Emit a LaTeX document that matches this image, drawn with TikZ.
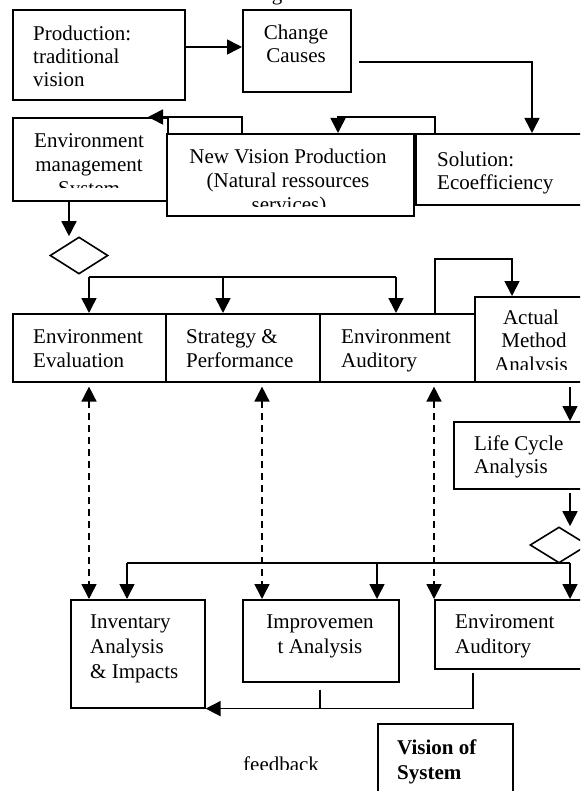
\documentclass[tikz,border=0pt]{standalone}
\usepackage{fontspec}
\setmainfont{Liberation Serif}
\usetikzlibrary{arrows.meta,shapes.geometric,calc}
\begin{document}
\begin{tikzpicture}[x=1pt,y=-1pt,
  box/.style={draw,line width=1.6pt,fill=white,rectangle,inner sep=0pt,anchor=north west},
  dia/.style={draw,line width=1.6pt,fill=white,diamond,inner sep=0pt},
  txt/.style={inner sep=0pt,font=\fontsize{21}{24}\selectfont},
  tl/.style={txt,anchor=base west},
  tc/.style={txt,anchor=base},
  conn/.style={line width=1.6pt},
  arr/.style={conn,-{Triangle[length=15pt,width=15pt]}},
  darr/.style={conn,dash pattern=on 7pt off 5pt,{Triangle[length=15pt,width=15pt]}-{Triangle[length=15pt,width=15pt]}}
]
\useasboundingbox (0,0) rectangle (580,791);
\clip (0,0) rectangle (580,791);
\fill[white] (0,0) rectangle (580,791);

% title fragment
\node[tc] (ttl) at (277,0.5) {g};

% ---------- boxes ----------
\node[box,minimum width=172pt,minimum height=90pt] (prod) at (12,9) {};
\node[tl] (prod1) at (33,40.7) {Production:};
\node[tl] (prod2) at (33,63.5) {traditional};
\node[tl] (prod3) at (33,87) {vision};

\node[box,minimum width=108pt,minimum height=82pt] (chg) at (242,9) {};
\node[tc] (chg1) at (296,39.5) {Change};
\node[tc] (chg2) at (296,63) {Causes};

\node[box,minimum width=155pt,minimum height=83pt] (ems) at (12,117) {};
\node[tc] (ems1) at (89,147.5) {Environment};
\node[tc] (ems2) at (89,171.5) {management};
\begin{scope}
  \clip (12,117) rectangle (167,188);
  \node[tc] (ems3) at (89,195.5) {System};
\end{scope}

\node[box,minimum width=247pt,minimum height=82pt] (nvp) at (166,133) {};
\node[tc] (nvp1) at (288,163.5) {New Vision Production};
\node[tc] (nvp2) at (288,187.5) {(Natural ressources};
\begin{scope}
  \clip (166,133) rectangle (413,207);
  \node[tc] (nvp3) at (289,211.5) {services)};
\end{scope}

\node[box,minimum width=185pt,minimum height=71pt] (sol) at (415,133) {};
\node[tl] (sol1) at (437,166.7) {Solution:};
\node[tl] (sol2) at (437,190) {Ecoefficiency};

\node[dia,minimum width=58pt,minimum height=37pt] (d1) at (79,255.5) {};

\node[box,minimum width=153pt,minimum height=68pt] (eev) at (12,313) {};
\node[tl] (eev1) at (33,343) {Environment};
\node[tl] (eev2) at (33,367) {Evaluation};

\node[box,minimum width=154pt,minimum height=68pt] (sp) at (165,313) {};
\node[tl] (sp1) at (186,343) {Strategy \&};
\node[tl] (sp2) at (186,367) {Performance};

\node[box,minimum width=155pt,minimum height=68pt] (eau) at (319,313) {};
\node[tl] (eau1) at (341,343) {Environment};
\node[tl] (eau2) at (341,367) {Auditory};

\node[box,minimum width=126pt,minimum height=85pt] (ama) at (474,296) {};
\node[tc] (ama1) at (531,324.5) {Actual};
\node[tc] (ama2) at (534,347.5) {Method};
\begin{scope}
  \clip (474,296) rectangle (600,369.5);
  \node[tc] (ama3) at (531,371) {Analysis};
\end{scope}

\node[box,minimum width=147pt,minimum height=67pt] (lca) at (453,421) {};
\node[tl] (lca1) at (474,450) {Life Cycle};
\node[tl] (lca2) at (474,473) {Analysis};

\node[dia,minimum width=58pt,minimum height=36pt] (d2) at (559,545) {};

\node[box,minimum width=134pt,minimum height=108pt] (inv) at (70,599) {};
\node[tl] (inv1) at (90,628.3) {Inventary};
\node[tl] (inv2) at (90,653.3) {Analysis};
\node[tl] (inv3) at (90,678.3) {\& Impacts};

\node[box,minimum width=156pt,minimum height=82pt] (imp) at (242,599) {};
\node[tc] (imp1) at (320,628.3) {Improvemen};
\node[tc] (imp2) at (320,653.3) {t Analysis};

\node[box,minimum width=166pt,minimum height=69pt] (eav) at (434,599) {};
\node[tl] (eav1) at (455,628.3) {Enviroment};
\node[tl] (eav2) at (455,653.3) {Auditory};

\node[box,minimum width=135pt,minimum height=90pt] (vos) at (377,723) {};
\node[tl,font=\fontsize{21}{24}\selectfont\bfseries] (vos1) at (397,754) {Vision of};
\node[tl,font=\fontsize{21}{24}\selectfont\bfseries] (vos2) at (397,779) {System};

\begin{scope}
  \clip (230,740) rectangle (330,769);
  \node[tl] (fb) at (243,771) {feedback};
\end{scope}

% ---------- connectors ----------
\draw[arr] ([yshift=-38pt]prod.north east) -- ([yshift=-38pt]prod.north east -| chg.west);

\coordinate (c1) at ([xshift=7pt,yshift=-53pt]chg.north east);
\coordinate (s1) at ([xshift=117pt]sol.north west);
\draw[arr] (c1) -| (s1);

\coordinate (s2) at ([xshift=20pt]sol.north west);
\coordinate (n1) at ([xshift=172pt]nvp.north west);
\draw[arr] (s2) -- ++(0,-16) -| (n1);

\coordinate (n2) at ([xshift=76pt]nvp.north west);
\coordinate (m1) at ([xshift=136pt]ems.north west);
\draw[arr] (n2) -- ++(0,-16) -- (m1);

\coordinate (e1) at ([xshift=57pt]ems.south west);
\draw[arr] (e1) -- (e1 |- d1.north);

% fan-out 1
\coordinate (bus1) at (0,277);
\coordinate (fa) at ([xshift=77pt]eev.north west);
\coordinate (fb1) at ([xshift=58pt]sp.north west);
\coordinate (fc) at ([xshift=77pt]eau.north west);
\draw[conn] (bus1 -| fa) -- (bus1 -| fc);
\draw[arr] (bus1 -| fa) -- (fa);
\draw[arr] (bus1 -| fb1) -- (fb1);
\draw[arr] (bus1 -| fc) -- (fc);

\coordinate (u1) at ([xshift=116pt]eau.north west);
\coordinate (a1) at ([xshift=38pt]ama.north west);
\draw[arr] (u1) -- ++(0,-54) -| (a1);

% dashed two-way arrows
\coordinate (da) at ([xshift=77pt,yshift=-4pt]eev.south west);
\coordinate (db) at ([xshift=97pt,yshift=-4pt]sp.south west);
\coordinate (dc) at ([xshift=115pt,yshift=-4pt]eau.south west);
\draw[darr] (da) -- (da |- inv.north);
\draw[darr] (db) -- (db |- imp.north);
\draw[darr] (dc) -- (dc |- eav.north);

% right column
\coordinate (r1) at ([xshift=96pt,yshift=-4pt]ama.south west);
\draw[arr] (r1) -- (r1 |- lca.north);
\coordinate (r2) at ([xshift=117pt,yshift=-3pt]lca.south west);
\draw[arr] (r2) -- (r2 |- d2.north);

% fan-out 2
\coordinate (bus2) at (0,563);
\coordinate (ga) at ([xshift=57pt]inv.north west);
\coordinate (gb) at ([xshift=135pt]imp.north west);
\coordinate (gc) at ([xshift=136pt]eav.north west);
\draw[conn] (bus2 -| ga) -- (bus2 -| gc);
\draw[arr] (bus2 -| ga) -- (ga);
\draw[arr] (bus2 -| gb) -- (gb);
\draw[arr] (bus2 -| gc) -- (gc);

% feedback
\coordinate (k1) at ([xshift=39pt,yshift=-3pt]eav.south west);
\draw[arr] (k1) |- (inv.south east);
\coordinate (k2) at ([xshift=-1pt,yshift=-7pt]imp.south);
\draw[conn] (k2) -- (k2 |- inv.south east);
\end{tikzpicture}
\end{document}
